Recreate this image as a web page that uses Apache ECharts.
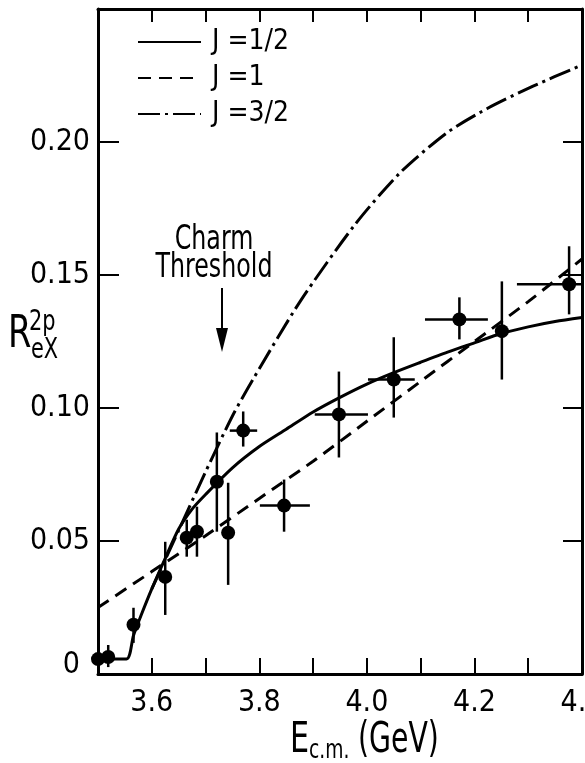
<!DOCTYPE html>
<html>
<head>
<meta charset="utf-8">
<script src="https://cdn.jsdelivr.net/npm/echarts@6/dist/echarts.min.js"></script>
<style>html,body{margin:0;padding:0;background:#fff}#c{width:585px;height:763px}</style>
</head>
<body>
<div id="c"></div>
<script>
// ---- data ----
const curveNames = ['J =1/2', 'J =1', 'J =3/2'];

const solidX = [3.50, 3.553, 3.566, 3.58, 3.60, 3.625, 3.65, 3.675, 3.70, 3.75, 3.80, 3.85, 3.90, 3.95, 4.00, 4.05, 4.10, 4.15, 4.20, 4.25, 4.30, 4.35, 4.40];
const solidY = [0.0056, 0.0056, 0.0145, 0.022, 0.032, 0.0435, 0.0545, 0.062, 0.0675, 0.0775, 0.0855, 0.092, 0.0985, 0.104, 0.109, 0.1133, 0.1172, 0.121, 0.1245, 0.128, 0.1305, 0.1325, 0.134];

const dashX = [3.5, 3.6, 3.7, 3.8, 3.9, 4.0, 4.1, 4.2, 4.3, 4.4];
const dashY = [0.025, 0.0385, 0.052, 0.066, 0.080, 0.095, 0.110, 0.125, 0.140, 0.156];

const dotdashX = [3.60, 3.65, 3.70, 3.75, 3.788, 3.876, 3.978, 4.062, 4.149, 4.223, 4.309, 4.396];
const dotdashY = [0.032, 0.054, 0.076, 0.097, 0.1107, 0.1401, 0.169, 0.1885, 0.2035, 0.2125, 0.221, 0.2286];

const ptX    = [3.50, 3.519, 3.566, 3.625, 3.665, 3.684, 3.721, 3.742, 3.770, 3.846, 3.948, 4.050, 4.172, 4.251, 4.376];
const ptY    = [0.0056, 0.0064, 0.0185, 0.0365, 0.0512, 0.0535, 0.0723, 0.0531, 0.0915, 0.0633, 0.0976, 0.1107, 0.1333, 0.1289, 0.1465];
const errYLo = ['-', 0.0026, 0.0117, 0.0222, 0.0441, 0.0441, 0.0535, 0.0335, 0.0855, 0.0535, 0.0814, 0.0964, 0.1258, 0.1107, 0.1352];
const errYHi = ['-', 0.0109, 0.0249, 0.0497, 0.0580, 0.0629, 0.0908, 0.0719, 0.0987, 0.0731, 0.1137, 0.1266, 0.1416, 0.1476, 0.1608];
const errXLo = ['-', '-', '-', '-', '-', '-', '-', '-', 3.745, 3.801, 3.903, 4.002, 4.108, '-', 4.279];
const errXHi = ['-', '-', '-', '-', '-', '-', '-', '-', 3.796, 3.894, 4.002, 4.089, 4.225, '-', 4.400];

const xLabelValues = [3.6, 3.8, 4.0, 4.2, 4.4];
const yLabelValues = [0, 0.05, 0.10, 0.15, 0.20];

// ---- build ----
const FONT = '"Liberation Sans Narrow", "DejaVu Sans Condensed", sans-serif';
const zip = (a, b) => a.map((v, i) => [v, b[i]]);
const pts = ptX.map((x, i) => [x, ptY[i], errYLo[i], errYHi[i], errXLo[i], errXHi[i]]);

const chart = echarts.init(document.getElementById('c'), null, {renderer: 'canvas'});

const xCommon = {
  type: 'value', min: 3.5, max: 4.4, interval: 0.1,
  splitLine: {show: false},
  axisLine: {show: true, onZero: false, lineStyle: {color: '#000', width: 3}}
};
const yCommon = {
  type: 'value', min: 0, max: 0.25, interval: 0.05,
  splitLine: {show: false},
  axisLine: {show: true, onZero: false, lineStyle: {color: '#000', width: 3}}
};

const option = {
  backgroundColor: '#fff',
  animation: false,
  textStyle: {fontFamily: FONT, color: '#000'},
  grid: {left: 98, right: 3, top: 9, bottom: 89, containLabel: false, outerBoundsMode: 'none'},
  xAxis: [
    Object.assign({}, xCommon, {
      position: 'bottom',
      axisTick: {show: true, inside: true, length: 16, lineStyle: {color: '#000', width: 2}},
      axisLabel: {
        show: true, margin: 14, fontSize: 30, color: '#000', fontFamily: FONT,
        showMinLabel: false, showMaxLabel: true, hideOverlap: false,
        formatter: v => {
          const r = Math.round(v * 10) / 10;
          return xLabelValues.some(t => Math.abs(t - r) < 1e-6) ? r.toFixed(1) : '';
        }
      }
    }),
    Object.assign({}, xCommon, {
      position: 'top',
      axisTick: {show: true, inside: true, length: 13, lineStyle: {color: '#000', width: 2}},
      axisLabel: {show: false}
    })
  ],
  yAxis: [
    Object.assign({}, yCommon, {
      position: 'left',
      axisTick: {show: true, inside: true, length: 21, lineStyle: {color: '#000', width: 2}},
      axisLabel: {
        show: true, margin: 8, fontSize: 30, color: '#000', fontFamily: FONT,
        showMaxLabel: false,
        formatter: v => {
          const r = Math.round(v * 100) / 100;
          if (!yLabelValues.some(t => Math.abs(t - r) < 1e-6)) return '';
          return r === 0 ? '{z|0}' : r.toFixed(2);
        },
        rich: {z: {fontSize: 30, fontFamily: FONT, color: '#000', padding: [0, 10, 18, 0]}}
      }
    }),
    Object.assign({}, yCommon, {
      position: 'right',
      axisTick: {show: true, inside: true, length: 19, lineStyle: {color: '#000', width: 2}},
      axisLabel: {show: false}
    })
  ],
  legend: {
    data: curveNames,
    orient: 'vertical', left: 137, top: 27, padding: 0,
    itemWidth: 63, itemHeight: 14, itemGap: 6,
    itemStyle: {opacity: 0},
    textStyle: {fontSize: 28, fontFamily: FONT, color: '#000', lineHeight: 30, padding: [0, 0, 0, 6]},
    selectedMode: false
  },
  series: [
    {
      name: curveNames[0], type: 'line', data: zip(solidX, solidY),
      symbol: 'none', smooth: 0.25,
      lineStyle: {color: '#000', width: 3, type: 'solid'},
      itemStyle: {color: '#000'}, z: 3
    },
    {
      name: curveNames[1], type: 'line', data: zip(dashX, dashY),
      symbol: 'none', smooth: 0.25,
      lineStyle: {color: '#000', width: 3, type: [13, 8]},
      itemStyle: {color: '#000'}, z: 3
    },
    {
      name: curveNames[2], type: 'line', data: zip(dotdashX, dotdashY),
      symbol: 'none', smooth: 0.25,
      lineStyle: {color: '#000', width: 3, type: [22, 5, 3, 5]},
      itemStyle: {color: '#000'}, z: 3
    },
    {
      name: 'errors', type: 'custom', data: pts, clip: false,
      encode: {x: 0, y: 1}, z: 4,
      renderItem: (params, api) => {
        const x = api.value(0), y = api.value(1);
        const ylo = api.value(2), yhi = api.value(3), xlo = api.value(4), xhi = api.value(5);
        const ch = [];
        if (!isNaN(ylo) && !isNaN(yhi)) {
          const a = api.coord([x, ylo]), b = api.coord([x, yhi]);
          ch.push({type: 'line', shape: {x1: a[0], y1: a[1], x2: b[0], y2: b[1]}, style: {stroke: '#000', lineWidth: 2.5}});
        }
        if (!isNaN(xlo) && !isNaN(xhi)) {
          const a = api.coord([xlo, y]), b = api.coord([xhi, y]);
          ch.push({type: 'line', shape: {x1: a[0], y1: a[1], x2: b[0], y2: b[1]}, style: {stroke: '#000', lineWidth: 2.5}});
        }
        return {type: 'group', children: ch};
      }
    },
    {
      name: 'data', type: 'scatter', data: pts.map(p => [p[0], p[1]]),
      symbol: 'circle', symbolSize: 14, clip: false,
      itemStyle: {color: '#000', opacity: 1}, z: 5
    }
  ],
  graphic: [
    {type: 'text', x: 8, y: 314, scaleX: 0.85, style: {text: 'R', font: '44px ' + FONT, fill: '#000'}},
    {type: 'text', x: 29, y: 308, scaleX: 0.8, style: {text: '2p', font: '29px ' + FONT, fill: '#000'}},
    {type: 'text', x: 31, y: 336, scaleX: 0.8, style: {text: 'eX', font: '29px ' + FONT, fill: '#000'}},

    {type: 'text', x: 290, y: 720, scaleX: 0.8, style: {text: 'E', font: '42px ' + FONT, fill: '#000'}},
    {type: 'text', x: 309, y: 738, scaleX: 0.8, style: {text: 'c.m.', font: '26px ' + FONT, fill: '#000'}},
    {type: 'text', x: 358, y: 720, scaleX: 0.75, style: {text: '(GeV)', font: '42px ' + FONT, fill: '#000'}},

    {type: 'text', x: 214, y: 226, scaleX: 0.8, style: {text: 'Charm\nThreshold', font: '33px ' + FONT, lineHeight: 28, fill: '#000', align: 'center', verticalAlign: 'top'}},
    {type: 'line', shape: {x1: 222, y1: 288, x2: 222, y2: 335}, style: {stroke: '#000', lineWidth: 2}},
    {type: 'polygon', shape: {points: [[216, 328], [228, 328], [222, 352]]}, style: {fill: '#000'}}
  ]
};
chart.setOption(option);
</script>
</body>
</html>
